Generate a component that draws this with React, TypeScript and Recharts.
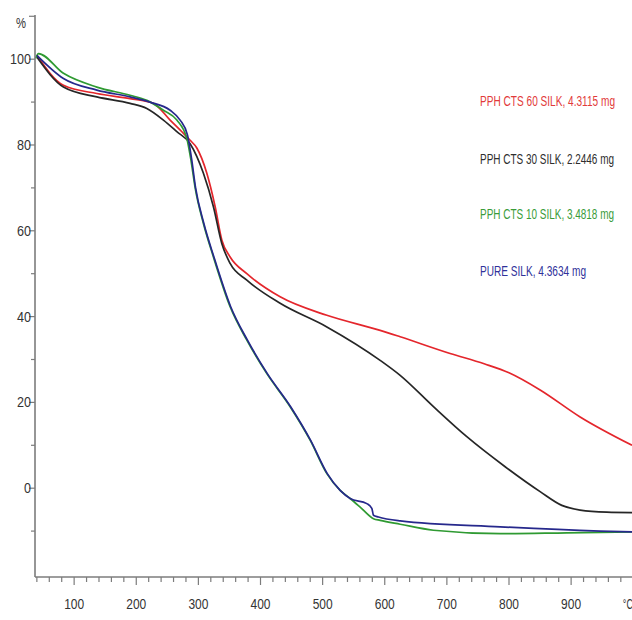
import { Line, LineChart, XAxis, YAxis } from "recharts";

// TGA curves, temperature (°C) vs residual mass (%)
const pph60Temp = [40, 82.8, 136.5, 190, 227.6, 254.5, 276, 286.7, 297.5, 313.6, 327, 337.8, 351.1, 378, 431.6, 506.8, 592.6, 624.8, 705.2, 760, 800, 850.1, 914.5, 998];
const pph60Mass = [100.9, 93.9, 92.0, 90.8, 89.7, 85.8, 82.7, 81.1, 79.3, 73.4, 65.6, 57.8, 53.9, 50.0, 44.6, 40.3, 36.8, 35.3, 31.4, 29.0, 26.9, 22.9, 16.6, 10.0];

const pph30Temp = [40, 82.8, 136.5, 190, 217, 243.7, 265.3, 286.7, 308.1, 324.2, 337.8, 351.1, 378, 431.6, 506.8, 592.6, 624.8, 678.4, 732.1, 793.8, 850.1, 885, 914.5, 957.5, 998];
const pph30Mass = [100.5, 93.5, 91.2, 89.7, 88.5, 85.8, 83.1, 80.3, 73.4, 65.6, 57.0, 52.4, 48.5, 43.1, 37.6, 29.8, 26.3, 19.0, 12.0, 5.0, -0.8, -4.0, -5.1, -5.6, -5.7];

const pph10Temp = [38, 42.5, 82.8, 136.5, 190, 217, 243.7, 265.3, 281.4, 288, 294.8, 308.1, 324.2, 351.1, 378, 410.2, 447.7, 479.9, 506.8, 528.2, 544.3, 560.4, 581.8, 592.6, 624.8, 678.4, 785.7, 893.1, 998];
const pph10Mass = [100.2, 101.3, 96.7, 93.5, 91.6, 90.4, 88.1, 85.8, 81.5, 76.5, 70.0, 61.7, 53.9, 42.3, 34.5, 26.7, 19.0, 11.2, 3.4, -0.5, -2.4, -4.4, -7.1, -7.5, -8.4, -9.8, -10.6, -10.4, -10.2];

const pureTemp = [40, 82.8, 136.5, 190, 222, 254.5, 270.6, 282.5, 289, 295.5, 308.8, 325, 352, 379, 411, 448.5, 480.5, 507.5, 528.2, 544.3, 571.2, 579.2, 581.8, 589.8, 624.8, 785.7, 946.7, 998];
const pureMass = [100.9, 95.5, 92.8, 91.2, 90.0, 88.1, 85.8, 82.3, 76.8, 70.0, 61.7, 53.9, 42.3, 34.5, 26.7, 19.0, 11.2, 3.4, -0.5, -2.4, -3.6, -4.7, -6.3, -6.7, -7.6, -9.0, -10.0, -10.2];

const series = [
  { name: "PPH CTS 60 SILK, 4.3115 mg", temp: pph60Temp, mass: pph60Mass, color: "#e4262c", text: "#e23a3a" },
  { name: "PPH CTS 30 SILK, 2.2446 mg", temp: pph30Temp, mass: pph30Mass, color: "#262626", text: "#2e2e2e" },
  { name: "PPH CTS 10 SILK, 3.4818 mg", temp: pph10Temp, mass: pph10Mass, color: "#2f9a32", text: "#3a9c3a" },
  { name: "PURE SILK, 4.3634 mg", temp: pureTemp, mass: pureMass, color: "#26288c", text: "#30319a" },
];

const xLabels = [100, 200, 300, 400, 500, 600, 700, 800, 900];
const yLabels = [0, 20, 40, 60, 80, 100];
const xTicks = Array.from({ length: 48 }, (_, i) => 40 + i * 20);
const yTicks = [-10, 0, 10, 20, 30, 40, 50, 60, 70, 80, 90, 100, 110];

const FONT = "'Liberation Sans', Arial, sans-serif";
const AXIS = "#7c7c7c";

// squeezed text, the original uses a narrow face
function NarrowText({ x, y, anchor = "start", width, size = 15, color = "#333", children }: any) {
  return (
    <text
      x={x}
      y={y}
      textAnchor={anchor}
      fontSize={size}
      fontFamily={FONT}
      fill={color}
      textLength={width}
      lengthAdjust="spacingAndGlyphs"
    >
      {children}
    </text>
  );
}

function TempTick({ x, y, payload }: any) {
  const v = payload.value;
  const major = xLabels.includes(v);
  return (
    <g>
      <line x1={x} x2={x} y1={y} y2={y + (major ? 8 : 5)} stroke={AXIS} strokeWidth={1.2} />
      {major && (
        <NarrowText x={x} y={y + 32} anchor="middle" width={20}>
          {v}
        </NarrowText>
      )}
      {v === 980 && (
        <NarrowText x={x + 2} y={y + 32} width={10}>
          °C
        </NarrowText>
      )}
    </g>
  );
}

function MassTick({ x, y, payload }: any) {
  const v = payload.value;
  const major = yLabels.includes(v) || v === 110;
  const label = String(v);
  return (
    <g>
      <line x1={x} x2={x - (major ? 6 : 4)} y1={y} y2={y} stroke={AXIS} strokeWidth={1.2} />
      {yLabels.includes(v) && (
        <NarrowText x={x - 4} y={y + 5} anchor="end" width={label.length * 7}>
          {label}
        </NarrowText>
      )}
      {v === 110 && (
        <NarrowText x={x - 9} y={y + 12} anchor="end" width={10}>
          %
        </NarrowText>
      )}
    </g>
  );
}

const legendTop = [100, 158, 213, 270];
const legendWidth = [135, 134, 134, 106];

export default function App() {
  return (
    <div style={{ position: "absolute", left: 0, top: 0, width: 632, height: 620, background: "#fff" }}>
      <LineChart width={632} height={620} margin={{ top: 15, right: 0, bottom: 0, left: 0 }}>
        <XAxis
          type="number"
          dataKey="temp"
          domain={[37, 998]}
          allowDataOverflow
          ticks={xTicks}
          interval={0}
          height={43}
          tickSize={0}
          tickMargin={0}
          tickLine={false}
          tick={<TempTick />}
          axisLine={{ stroke: AXIS, strokeWidth: 1.6 }}
        />
        <YAxis
          type="number"
          domain={[-20.7, 110.3]}
          allowDataOverflow
          ticks={yTicks}
          interval={0}
          width={35}
          tickSize={0}
          tickMargin={0}
          tickLine={false}
          tick={<MassTick />}
          axisLine={{ stroke: AXIS, strokeWidth: 1.6 }}
        />
        {series.map((s) => (
          <Line
            key={s.name}
            data={s.temp.map((t, i) => ({ temp: t, mass: s.mass[i] }))}
            dataKey="mass"
            name={s.name}
            type="monotone"
            stroke={s.color}
            strokeWidth={1.7}
            dot={false}
            isAnimationActive={false}
          />
        ))}
      </LineChart>
      <svg width={632} height={620} style={{ position: "absolute", left: 0, top: 0, pointerEvents: "none" }}>
        {series.map((s, i) => (
          <NarrowText key={s.name} x={480} y={legendTop[i] + 5.5} width={legendWidth[i]} size={15.5} color={s.text}>
            {s.name}
          </NarrowText>
        ))}
      </svg>
    </div>
  );
}
